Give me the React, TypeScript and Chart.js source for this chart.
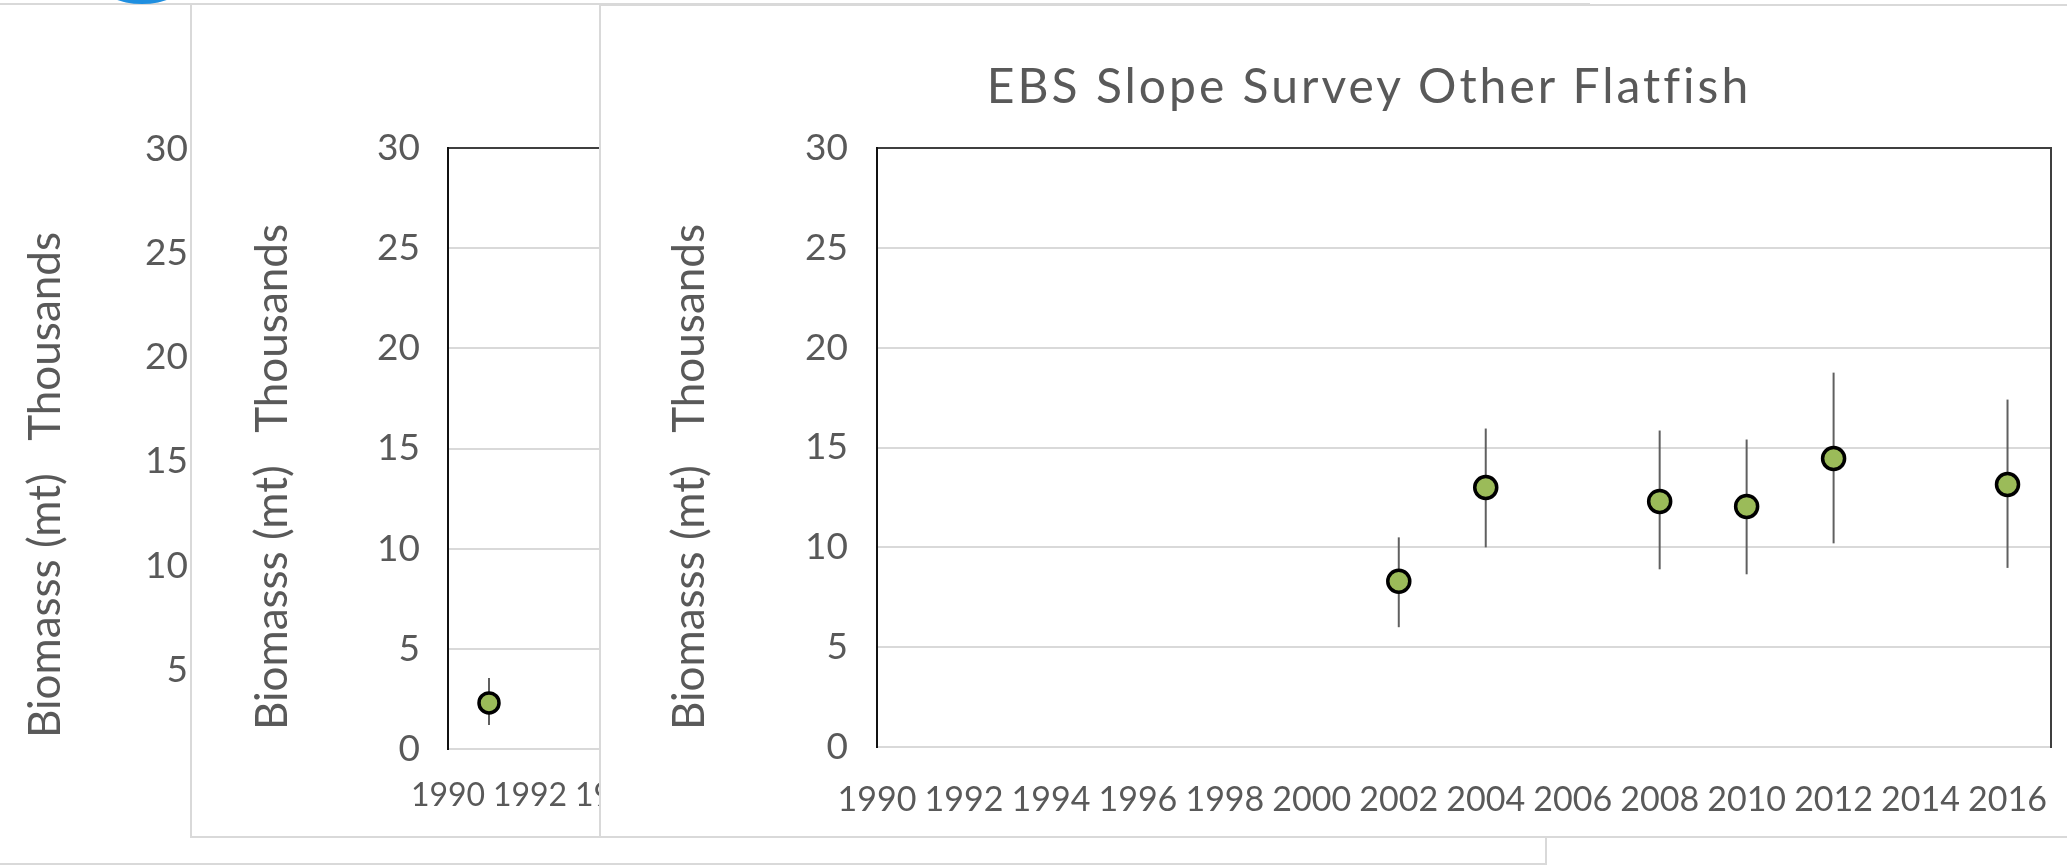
import React, { useEffect, useRef } from "react";
import { Chart, registerables } from "chart.js";

Chart.register(...registerables);

// ---- data (front chart: EBS Slope Survey Other Flatfish) ----
const surveyYears = [2002, 2004, 2008, 2010, 2012, 2016];
const biomassThousands = [8.3, 13.0, 12.3, 12.05, 14.45, 13.15];
const lowerCI = [6.0, 10.0, 8.9, 8.65, 10.2, 8.97];
const upperCI = [10.5, 15.95, 15.85, 15.4, 18.75, 17.4];

// ---- data (partially hidden chart behind) ----
const earlyYears = [1991];
const earlyBiomass = [2.3];
const earlyLower = [1.2];
const earlyUpper = [3.55];

// ---- axis ticks / labels ----
const xTickYears = [1990, 1992, 1994, 1996, 1998, 2000, 2002, 2004, 2006, 2008, 2010, 2012, 2014, 2016];
const yTickValues = [0, 5, 10, 15, 20, 25, 30];
const yAxisTitle = "Biomasss (mt)   Thousands";
const chartTitle = "EBS Slope Survey Other Flatfish";

const GRID = "#d9d9d9";
const DARK = "#3f3f3f";
const TEXT = "#595959";
const FONT = "Lato, 'Open Sans', sans-serif";

type Spec = {
  years: number[];
  values: number[];
  lower: number[];
  upper: number[];
  width: number;
  height: number;
  pad: { left: number; right: number; top: number; bottom: number };
  yAxisWidth: number;
  xAxisHeight: number;
  tickPad: number;
  xTickPad: number;
  xTickSize: number;
  showXTicks: boolean;
  hideZero: boolean;
  pointRadius: number;
};

function makeConfig(s: Spec): any {
  const datasets: any[] = [];
  s.years.forEach((yr, i) => {
    datasets.push({
      type: "line",
      data: [
        { x: yr, y: s.lower[i] },
        { x: yr, y: s.upper[i] },
      ],
      borderColor: "#606060",
      borderWidth: 2,
      pointRadius: 0,
      showLine: true,
      fill: false,
      order: 1,
    });
  });
  datasets.push({
    type: "scatter",
    data: s.years.map((yr, i) => ({ x: yr, y: s.values[i] })),
    backgroundColor: "#9bbb59",
    borderColor: "#000000",
    borderWidth: 3.5,
    pointRadius: s.pointRadius,
    order: 0,
  });
  return {
    type: "scatter",
    data: { datasets },
    options: {
      animation: false,
      responsive: false,
      events: [],
      layout: { padding: s.pad },
      plugins: {
        legend: { display: false },
        tooltip: { enabled: false },
        title: { display: false },
      },
      scales: {
        x: {
          type: "linear",
          position: "bottom",
          min: 1990,
          max: 2017,
          afterBuildTicks: (sc: any) => {
            sc.ticks = xTickYears.map((v) => ({ value: v }));
          },
          afterFit: (sc: any) => {
            sc.height = s.xAxisHeight;
            sc.paddingLeft = 0;
            sc.paddingRight = 0;
          },
          grid: { display: false, drawTicks: false },
          border: { display: false },
          ticks: {
            display: s.showXTicks,
            padding: s.xTickPad,
            autoSkip: false,
            maxRotation: 0,
            color: TEXT,
            font: { family: FONT, size: s.xTickSize },
            callback: (v: any) => String(v),
          },
        },
        y: {
          type: "linear",
          position: "left",
          min: 0,
          max: 30,
          afterBuildTicks: (sc: any) => {
            sc.ticks = yTickValues.map((v) => ({ value: v }));
          },
          afterFit: (sc: any) => {
            sc.width = s.yAxisWidth;
            sc.paddingTop = 0;
            sc.paddingBottom = 0;
          },
          grid: {
            color: (c: any) => (c.tick && c.tick.value === 30 ? DARK : GRID),
            lineWidth: 2,
            drawTicks: false,
          },
          border: { display: true, color: "#111111", width: 2 },
          ticks: {
            padding: s.tickPad,
            color: TEXT,
            font: { family: FONT, size: 37 },
            callback: (v: any) => (s.hideZero && v === 0 ? "" : String(v)),
          },
          title: { display: false },
        },
        y2: {
          type: "linear",
          position: "right",
          min: 0,
          max: 30,
          grid: { display: false, drawTicks: false },
          ticks: { display: false },
          border: { display: true, color: DARK, width: 2 },
          afterFit: (sc: any) => {
            sc.width = 0;
          },
        },
      },
    },
  };
}

function ChartCanvas({ spec, left, top, z }: { spec: Spec; left: number; top: number; z: number }) {
  const ref = useRef<HTMLCanvasElement>(null);
  useEffect(() => {
    const chart = new Chart(ref.current as HTMLCanvasElement, makeConfig(spec));
    return () => chart.destroy();
  }, []);
  return (
    <canvas
      ref={ref}
      width={spec.width}
      height={spec.height}
      style={{ position: "absolute", left, top, width: spec.width, height: spec.height, zIndex: z }}
    />
  );
}

function AxisTitle({ cx, cy, z, size }: { cx: number; cy: number; z: number; size: number }) {
  const w = 700;
  const h = 56;
  return (
    <div
      style={{
        position: "absolute",
        left: cx - w / 2,
        top: cy - h / 2,
        width: w,
        height: h,
        lineHeight: `${h}px`,
        textAlign: "center",
        fontSize: size,
        color: TEXT,
        whiteSpace: "pre",
        transform: "rotate(-90deg)",
        transformOrigin: "50% 50%",
        zIndex: z,
      }}
    >
      {yAxisTitle}
    </div>
  );
}

const farSpec: Spec = {
  years: [],
  values: [],
  lower: [],
  upper: [],
  width: 1545,
  height: 858,
  pad: { left: 0, right: 45, top: 145, bottom: 28 },
  yAxisWidth: 223,
  xAxisHeight: 60,
  tickPad: 35,
  xTickPad: 30,
  xTickSize: 34,
  showXTicks: false,
  hideZero: true,
  pointRadius: 10,
};

const middleSpec: Spec = {
  years: earlyYears,
  values: earlyBiomass,
  lower: earlyLower,
  upper: earlyUpper,
  width: 1380,
  height: 830,
  pad: { left: 0, right: 17, top: 143, bottom: 6 },
  yAxisWidth: 256,
  xAxisHeight: 80,
  tickPad: 28,
  xTickPad: 27,
  xTickSize: 32,
  showXTicks: true,
  hideZero: false,
  pointRadius: 10,
};

const frontSpec: Spec = {
  years: surveyYears,
  values: biomassThousands,
  lower: lowerCI,
  upper: upperCI,
  width: 1466,
  height: 830,
  pad: { left: 0, right: 16, top: 142, bottom: 9 },
  yAxisWidth: 276,
  xAxisHeight: 80,
  tickPad: 29,
  xTickPad: 33,
  xTickSize: 34,
  showXTicks: true,
  hideZero: false,
  pointRadius: 11,
};

const panelBase: React.CSSProperties = {
  position: "absolute",
  boxSizing: "border-box",
  border: `2px solid ${GRID}`,
  background: "#ffffff",
};

export default function App() {
  return (
    <div
      style={{
        position: "fixed",
        left: 0,
        top: 0,
        width: 2067,
        height: 867,
        overflow: "hidden",
        background: "#ffffff",
        fontFamily: FONT,
      }}
    >
      {/* back-most panel */}
      <div style={{ ...panelBase, left: -2, top: 3, width: 1549, height: 862, zIndex: 1 }} />
      <ChartCanvas spec={farSpec} left={0} top={4} z={1} />
      <AxisTitle cx={43} cy={485} z={1} size={44} />

      {/* middle panel */}
      <div style={{ ...panelBase, left: 190, top: 3, width: 1400, height: 835, zIndex: 2 }} />
      <ChartCanvas spec={middleSpec} left={192} top={5} z={2} />
      <AxisTitle cx={270} cy={477} z={2} size={44} />

      {/* front panel */}
      <div style={{ ...panelBase, left: 599, top: 4, width: 1500, height: 834, zIndex: 3 }} />
      <ChartCanvas spec={frontSpec} left={601} top={6} z={3} />
      <AxisTitle cx={687} cy={477} z={3} size={44} />

      <div
        style={{
          position: "absolute",
          left: 951,
          top: 61,
          width: 836,
          textAlign: "center",
          fontSize: 48,
          lineHeight: "48px",
          letterSpacing: 3,
          color: TEXT,
          whiteSpace: "nowrap",
          zIndex: 10,
        }}
      >
        {chartTitle}
      </div>

      <div
        style={{
          position: "absolute",
          left: 100,
          top: -38,
          width: 84,
          height: 42,
          borderRadius: "50%",
          background: "#1f8fe0",
          zIndex: 10,
        }}
      />
    </div>
  );
}
